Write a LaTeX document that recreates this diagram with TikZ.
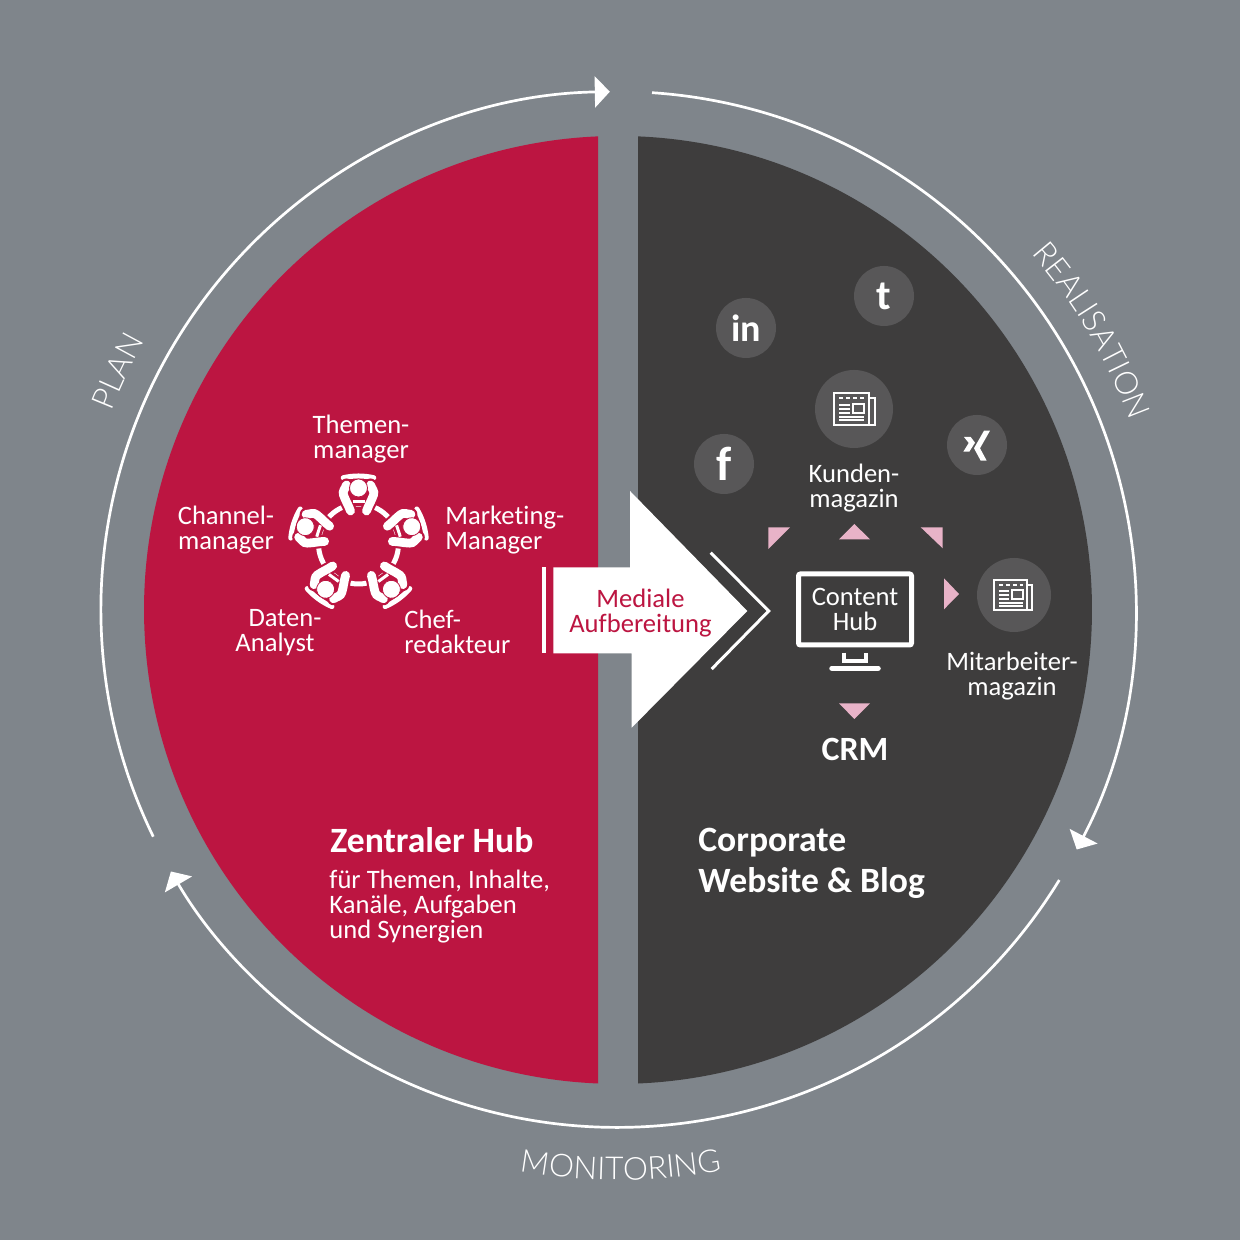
\documentclass[tikz,border=0pt]{standalone}
\usepackage{fontspec}
\usepackage{xcolor}
\usetikzlibrary{arrows.meta,decorations.text}
\setmainfont[Ligatures={NoCommon}]{Carlito}
\newfontfamily\thinfont{Lato Light}
\definecolor{bggrey}{RGB}{127,133,139}
\definecolor{hubred}{RGB}{188,21,65}
\definecolor{sitedark}{RGB}{62,61,61}
\definecolor{iconcircle}{RGB}{88,87,88}
\definecolor{pinktri}{RGB}{232,179,200}
\newcommand{\bodyfont}{\fontsize{13.3}{12.5}\selectfont}
\newcommand{\headfont}{\fontsize{17.8}{20.5}\selectfont\bfseries}
\newcommand{\ringfont}{\thinfont\fontsize{15.8}{20}\selectfont}
\newcommand{\newsicon}[3]{%
  \begin{scope}[shift={(#1,#2)},scale=#3,white,line width=1pt]
    \draw (15,-16) -- (-20,-16) -- (-20,16) -- (15,16) -- (15,-16);
    \draw (15,11) -- (20.5,11) -- (20.5,-16) -- (15,-16);
    \draw [dash pattern=on 2pt off 1.5pt] (-15,11) -- (11,11);
    \draw (-15,4) -- (-4,4) (-15,0) -- (-4,0) (-15,-4) -- (-4,-4);
    \draw (-1.3,5) rectangle (10,-3.7);
    \draw (-15,-8) -- (10,-8) (-15,-11.5) -- (10,-11.5);
  \end{scope}}
\tikzset{
  x=0.5pt,y=0.5pt,
  textlabel/.style={white,font=\bodyfont,align=center,inner sep=0pt},
  leftlabel/.style={textlabel,align=left,anchor=west},
  headlabel/.style={white,font=\headfont,align=left,inner sep=0pt,anchor=west},
  roundarrow/.style={white,line width=1.35pt,-{Triangle[length=7.5pt,width=15.5pt]}},
  bubble/.style={circle,fill=iconcircle,inner sep=0pt},
  smallbubble/.style={bubble,minimum size=30pt,text=white,font=\fontsize{21}{21}\selectfont\bfseries},
  pinktriangle/.style={fill=pinktri},
}
\begin{document}
\begin{tikzpicture}
  \useasboundingbox (0,0) rectangle (1240,1240);
  \fill [bggrey] (0,0) rectangle (1240,1240);
  % half discs
  \fill [hubred] (598,1103.6) arc [start angle=92.42,end angle=267.58,radius=474] -- cycle;
  \fill [sitedark] (638,1103.6) arc [start angle=87.58,end angle=-87.58,radius=474] -- cycle;
  % outer ring
  \coordinate (planstart) at (153.3,403.3);
  \coordinate (realstart) at (652,1147.3);
  \coordinate (monstart) at (1059.3,360);
  \draw [roundarrow] (planstart) arc [start angle=206,end angle=91,radius=518];
  \draw [roundarrow] (realstart) arc [start angle=86.2,end angle=-27.6,radius=518];
  \draw [roundarrow] (monstart) arc [start angle=-31.5,end angle=-149.6,radius=518];
  \path [decorate,decoration={text along path,text align=center,text color=white,text={|\ringfont|PLAN}}]
    (75.9,677.3) arc [start angle=175,end angle=134,radius=545];
  \path [decorate,decoration={text along path,text align=center,text color=white,text={|\ringfont|REALISATION}}]
    (927.3,1080) arc [start angle=55.5,end angle=5.5,radius=546];
  \path [decorate,decoration={text along path,text align=center,text color=white,text={|\ringfont|MONITORING}}]
    (377.1,113.4) arc [start angle=245,end angle=295.6,radius=570];
  % table with five persons
  \draw [white,line width=2.5pt] (358.5,696) circle [radius=40];
  \foreach \seat in {0,72,144,216,288} {
    \begin{scope}[shift={(358.5,696)},rotate=\seat]
      \draw [white,line width=2.5pt,line cap=round] (103:68) arc [start angle=103,end angle=77,radius=68];
      \draw [hubred,line width=6.5pt,line cap=round] (-12,59) to [out=250,in=110] (-15,49) to [out=290,in=110] (-8,33);
      \draw [hubred,line width=6.5pt,line cap=round] (12,59) to [out=290,in=70] (15,49) to [out=250,in=70] (8,33);
      \fill [hubred] (-8,38) rectangle (8,46);
      \draw [white,line width=4.4pt,line cap=round] (-12,59) to [out=250,in=110] (-15,49) to [out=290,in=110] (-8,33);
      \draw [white,line width=4.4pt,line cap=round] (12,59) to [out=290,in=70] (15,49) to [out=250,in=70] (8,33);
      \draw [white,line width=1.5pt] (-6,42) -- (6,42);
      \fill [white,draw=hubred,line width=0.4pt] (0,56) circle [radius=9];
    \end{scope}
  }
  \node [textlabel] (themen) at (361,801) {Themen-\\manager};
  \node [textlabel] (channel) at (226,710) {Channel-\\manager};
  \node [leftlabel] (marketing) at (445,710) {Marketing-\\Manager};
  \node [textlabel] (daten) at (275,607) {\hspace*{10pt}Daten-\\Analyst};
  \node [leftlabel] (chef) at (404,608) {Chef-\\redakteur};
  % big arrow
  \fill [white] (541.7,586.7) rectangle (546,672.7);
  \fill [white] (553.3,672.7) -- (630,672.7) -- (630,749) -- (747.3,629) -- (631.7,512.3) -- (631.7,586.7) -- (553.3,586.7) -- cycle;
  \draw [white,line width=1.5pt] (710.7,687.3) -- (768.7,629) -- (711.7,571);
  \node [textlabel,text=hubred] (mediale) at (640.5,627) {Mediale\\Aufbereitung};
  % social bubbles
  \node [smallbubble,font=\fontsize{19}{19}\selectfont\bfseries] (linkedin) at (746,912) {in};
  \node [smallbubble] (tumblr) at (884,944) {t};
  \node [smallbubble,font=\fontsize{24}{24}\selectfont\bfseries] (facebook) at (724,776) {f};
  \node [smallbubble] (xing) at (977,795) {};
  \fill [white] (964,803) -- (970.7,803) -- (975,797.3) -- (969.3,788.3) -- (963.3,788.3) -- (968.7,797) -- cycle;
  \fill [white] (984,809.3) -- (990,809.3) -- (980,791.7) -- (986.7,779.3) -- (980.7,779.3) -- (974,791.7) -- cycle;
  \node [bubble,minimum size=39pt] (kundenicon) at (854,831) {};
  \newsicon{854}{831}{1}
  \node [textlabel] (kunden) at (854,752) {Kunden-\\magazin};
  \node [bubble,minimum size=37pt] (mitarbeitericon) at (1014,645) {};
  \newsicon{1013}{645}{0.95}
  \node [textlabel] (mitarbeiter) at (1012,564) {Mitarbeiter-\\magazin};
  % content hub
  \node [textlabel,draw=white,line width=2.5pt,minimum width=56.5pt,minimum height=35.5pt,rounded corners=1pt] (hub) at (855,630.5) {Content\\Hub};
  \draw [white,line width=1.75pt] (844,587.3) -- (844,579) -- (866,579) -- (866,587.3);
  \draw [white,line width=2.75pt,line cap=round] (832,571.7) -- (878,571.7);
  \fill [pinktriangle] (768.3,712.7) -- (790,712.7) -- (768.3,691) -- cycle;
  \fill [pinktriangle] (854.3,716) -- (870,700.7) -- (839,700.7) -- cycle;
  \fill [pinktriangle] (920.7,712.7) -- (942.7,712.7) -- (942.7,691.7) -- cycle;
  \fill [pinktriangle] (944,661.7) -- (959,646) -- (944,630.7) -- cycle;
  \fill [pinktriangle] (839,536.7) -- (870,536.7) -- (854.3,521) -- cycle;
  \node [headlabel,anchor=center,font=\fontsize{17}{20}\selectfont\bfseries] (crm) at (855,491) {CRM};
  % bottom texts
  \node [headlabel] (zentral) at (330,400) {Zentraler Hub};
  \node [leftlabel] (themen2) at (329,333) {für Themen, Inhalte,\\Kanäle, Aufgaben\\und Synergien};
  \node [headlabel] (corporate) at (698,377) {Corporate\\Website \& Blog};
\end{tikzpicture}
\end{document}
